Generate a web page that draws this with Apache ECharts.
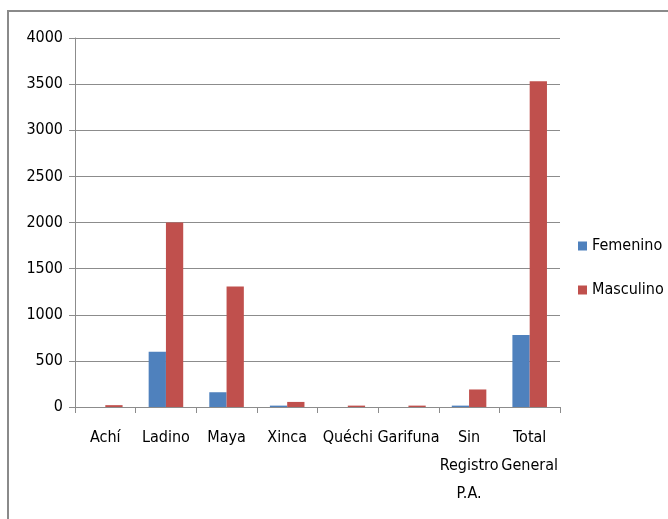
<!DOCTYPE html>
<html><head><meta charset="utf-8">
<script src="https://cdn.jsdelivr.net/npm/echarts@6/dist/echarts.min.js"></script>
<style>html,body{margin:0;padding:0;background:#fff}#c{width:668px;height:519px}</style>
</head><body><div id="c"></div>
<script>
var categories = ['Achí', 'Ladino', 'Maya', 'Xinca', 'Quéchi', 'Garifuna', 'Sin\nRegistro\nP.A.', 'Total\nGeneral'];
var femenino = [0, 600, 160, 15, 0, 0, 15, 780];
var masculino = [20, 2000, 1305, 55, 15, 15, 190, 3530];
var yTicks = {min: 0, max: 4000, interval: 500};

var FONT = '"DejaVu Sans Condensed", "Liberation Sans Narrow", sans-serif';
var chart = echarts.init(document.getElementById('c'));
chart.setOption({
  animation: false,
  textStyle: {fontFamily: FONT},
  graphic: [{
    type: 'rect', shape: {x: 8, y: 11, width: 700, height: 560},
    style: {fill: 'none', stroke: '#8a8a8a', lineWidth: 2}
  }],
  grid: {left: 75, right: 108, top: 38, bottom: 112, containLabel: false},
  legend: {
    orient: 'vertical', left: 573, top: 233, itemWidth: 9, itemHeight: 9, itemGap: 28, icon: 'rect',
    textStyle: {fontFamily: FONT, fontSize: 16, color: '#000'},
    data: ['Femenino', 'Masculino']
  },
  xAxis: {
    type: 'category', data: categories,
    axisLine: {lineStyle: {color: '#8c8c8c', width: 1}},
    axisTick: {show: true, length: 6, lineStyle: {color: '#8c8c8c'}},
    axisLabel: {fontFamily: FONT, fontSize: 16, color: '#000', margin: 17, lineHeight: 28, interval: 0}
  },
  yAxis: {
    type: 'value', min: yTicks.min, max: yTicks.max, interval: yTicks.interval,
    axisLine: {show: true, lineStyle: {color: '#8c8c8c'}},
    axisTick: {show: true, length: 6, lineStyle: {color: '#8c8c8c'}},
    splitLine: {lineStyle: {color: '#8c8c8c'}},
    axisLabel: {fontFamily: FONT, fontSize: 16, color: '#000', margin: 12,
      formatter: function (v) { return String(v); }}
  },
  series: [
    {name: 'Femenino', type: 'bar', data: femenino, barGap: '0%', barCategoryGap: '43%',
     itemStyle: {color: '#4F81BD'}},
    {name: 'Masculino', type: 'bar', data: masculino, barGap: '0%', barCategoryGap: '43%',
     itemStyle: {color: '#C0504D'}}
  ]
});
</script></body></html>
